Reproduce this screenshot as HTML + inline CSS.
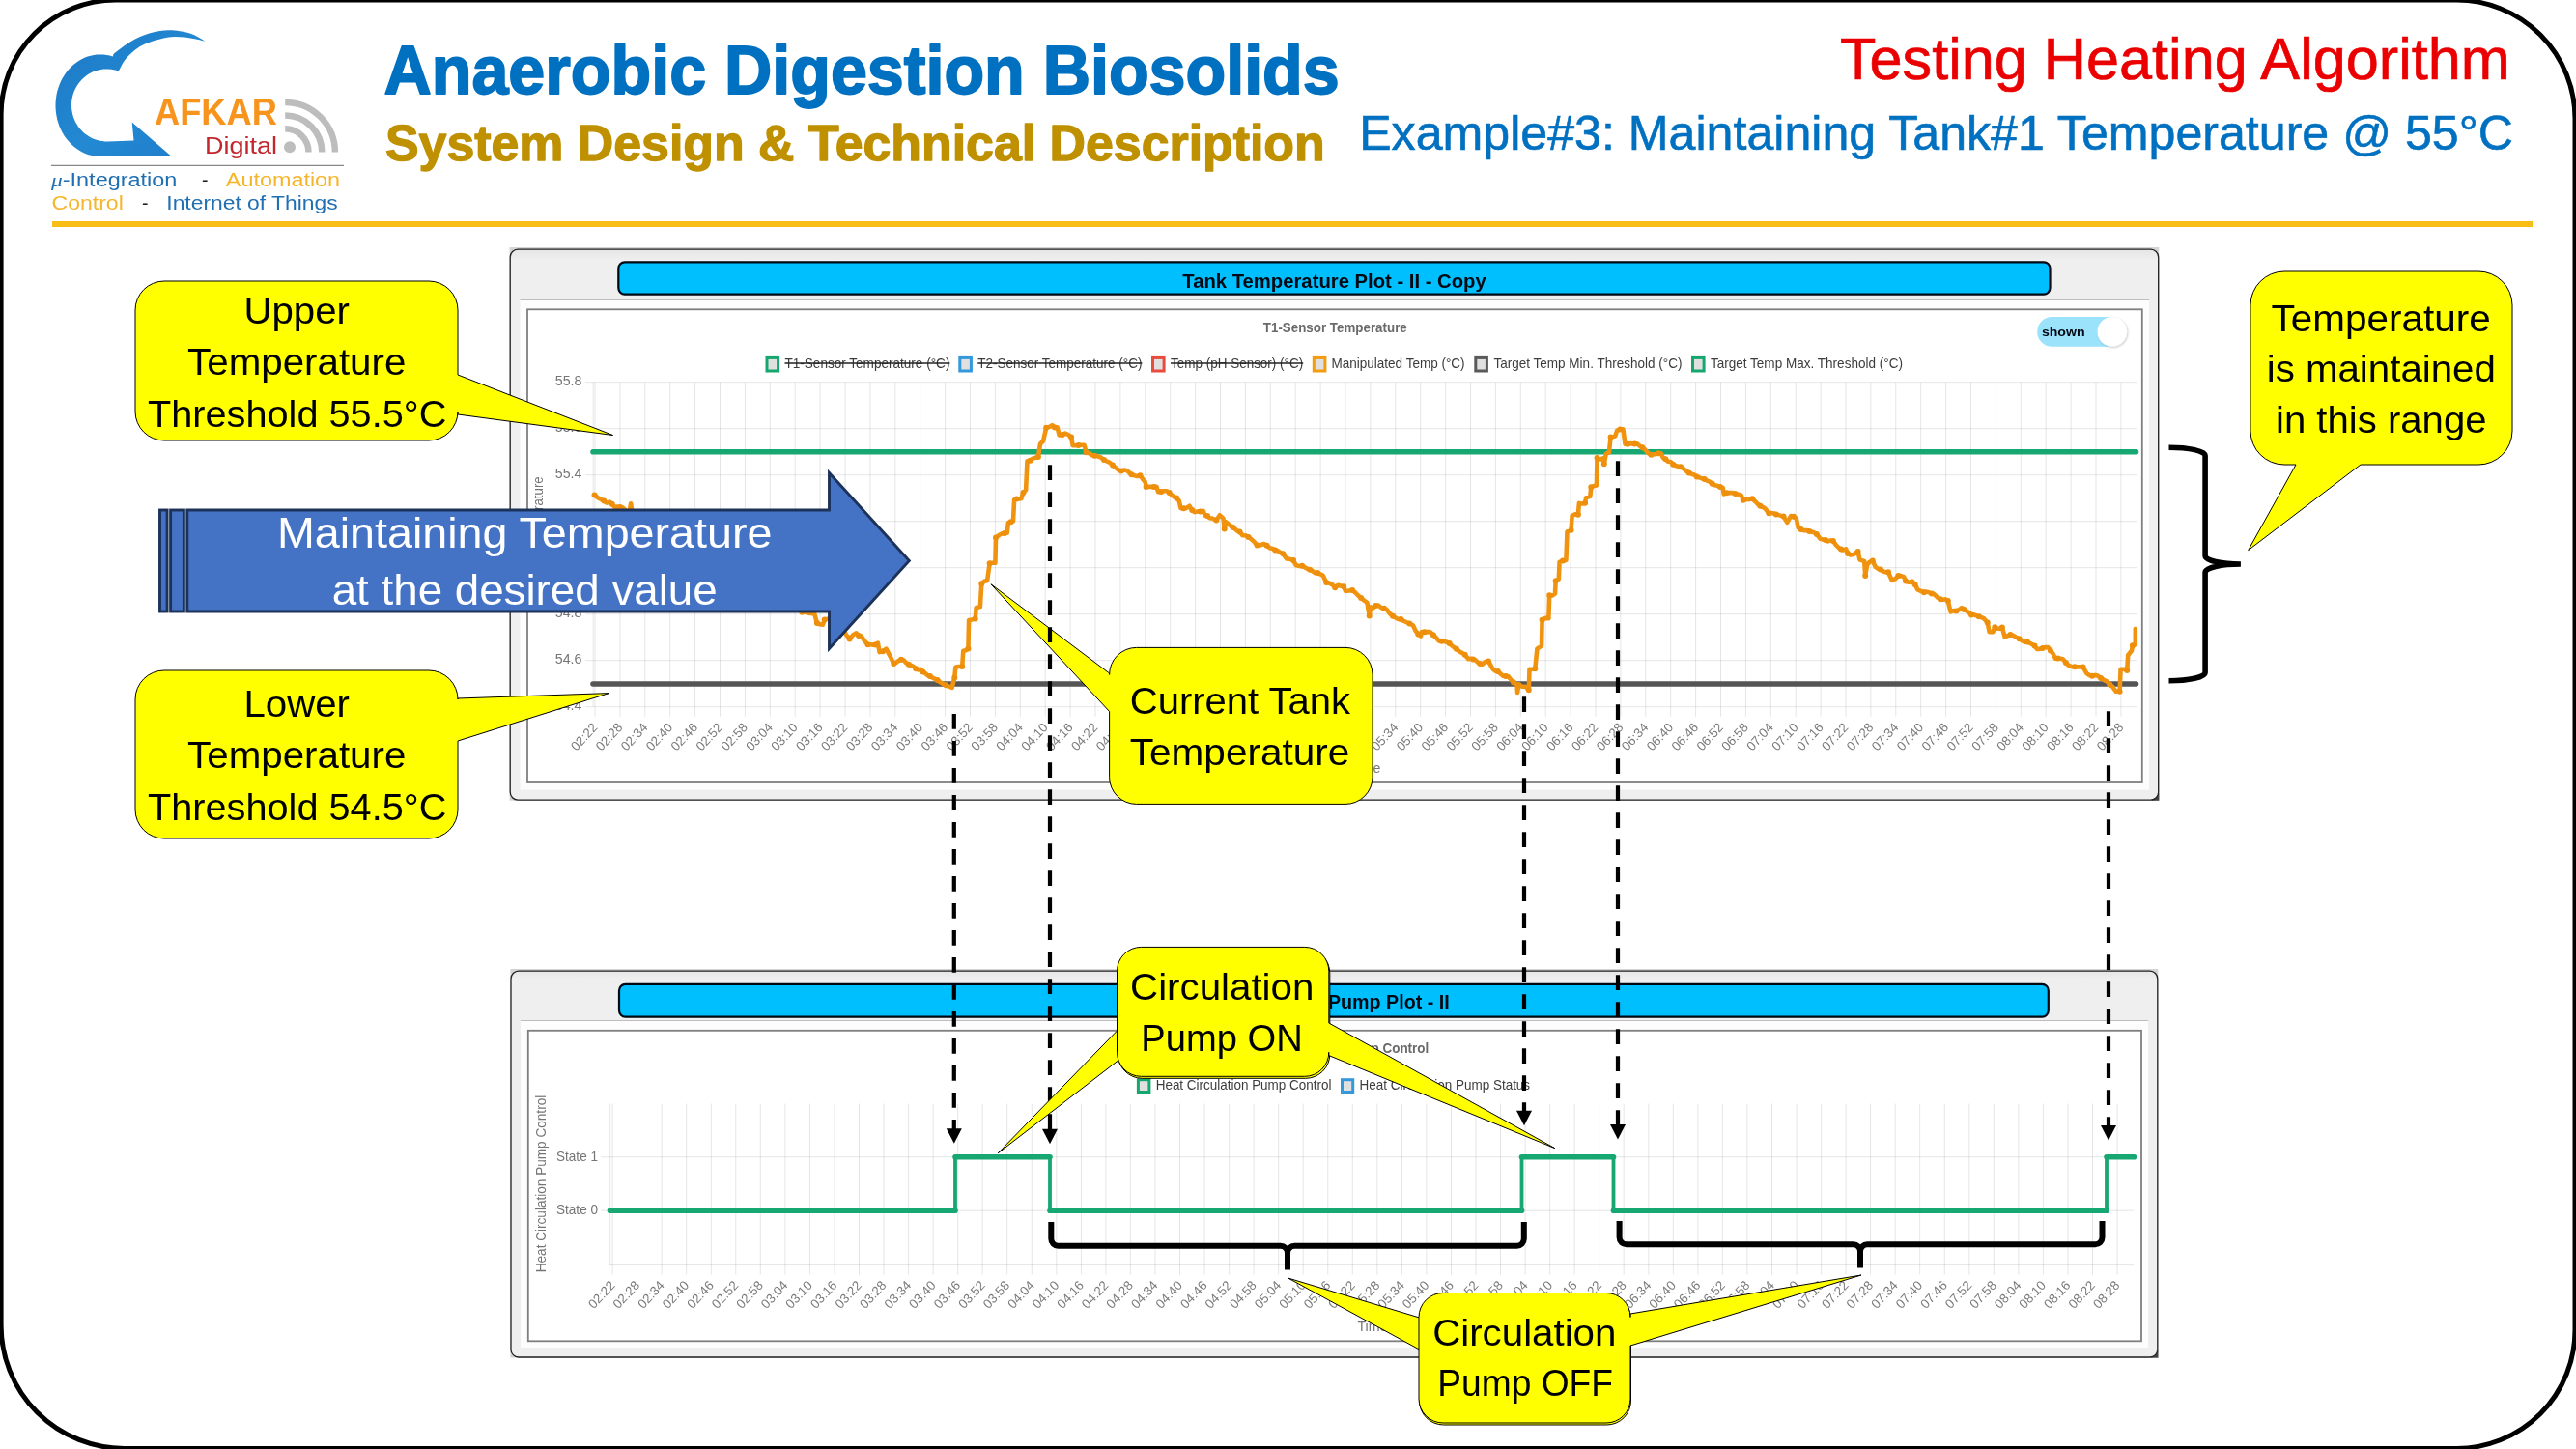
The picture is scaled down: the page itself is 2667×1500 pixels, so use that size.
<!DOCTYPE html>
<html><head><meta charset="utf-8"><title>Testing Heating Algorithm</title>
<style>
html,body{margin:0;padding:0;background:#fff;}
body{width:2667px;height:1500px;overflow:hidden;font-family:"Liberation Sans",sans-serif;}
svg{display:block;position:absolute;left:0;top:0;}
svg text{font-family:"Liberation Sans",sans-serif;white-space:pre;}
</style></head><body>
<svg width="2667" height="1500" viewBox="0 0 2667 1500">
<defs>
<linearGradient id="lg" x1="0" y1="0" x2="1" y2="1"><stop offset="0" stop-color="#1c78c6"/><stop offset="0.55" stop-color="#2389d2"/><stop offset="1" stop-color="#1f7ccb"/></linearGradient>
<linearGradient id="pg" x1="0" y1="0" x2="0" y2="1"><stop offset="0" stop-color="#e6e6e6"/><stop offset="0.02" stop-color="#efefef"/><stop offset="1" stop-color="#efefef"/></linearGradient>
<filter id="ks" x="-30%" y="-30%" width="160%" height="160%"><feGaussianBlur in="SourceAlpha" stdDeviation="1.2"/><feOffset dx="0.5" dy="1" result="o"/><feComponentTransfer><feFuncA type="linear" slope="0.22"/></feComponentTransfer><feMerge><feMergeNode/><feMergeNode in="SourceGraphic"/></feMerge></filter>
</defs>
<rect x="0" y="0" width="2667" height="1500" fill="#fff"/>
<g opacity="0.999">

<path d="M119.6,0.1 L2543.5,0.1 A122.5,122.5 0 0 1 2666.0,122.6 L2666.0,1376.9 A122.5,122.5 0 0 1 2543.5,1499.4 L128.6,1499.4 A127.5,127.5 0 0 1 1.1,1371.9 L1.1,118.6 A118.5,118.5 0 0 1 119.6,0.1 Z" fill="#fff" stroke="#000" stroke-width="5"/>
<g id="logo">
<path d="M212.7,42.7 C210.6,41.5 204.4,37.4 200.0,35.7 C195.6,34.0 190.3,33.0 186.3,32.3 C182.3,31.6 179.4,31.4 176.0,31.3 C172.6,31.2 169.0,31.4 165.6,31.9 C162.2,32.4 158.8,33.2 155.3,34.2 C151.9,35.2 148.4,36.6 144.9,38.1 C141.4,39.6 138.0,41.4 134.6,43.5 C131.2,45.6 127.0,48.6 124.2,50.7 C121.4,52.8 118.6,55.0 117.5,55.9 L116.8,58.4 L113.6,57.5 L110.3,56.9 L107.0,56.5 L103.7,56.4 L100.4,56.6 L97.1,57.0 L93.9,57.7 L90.7,58.6 L87.5,59.8 L84.5,61.3 L81.5,63.0 L78.7,64.9 L76.0,67.1 L73.4,69.5 L71.0,72.0 L68.7,74.8 L66.7,77.7 L64.8,80.8 L63.1,84.1 L61.6,87.4 L60.4,90.9 L59.3,94.5 L58.5,98.1 L58.0,101.9 L57.6,105.6 L57.5,109.4 L57.6,113.1 L58.0,116.9 L58.6,120.6 L59.4,124.2 L60.5,127.8 L61.7,131.2 L63.2,134.6 L64.9,137.8 L66.8,140.9 L68.9,143.8 L71.2,146.6 L73.6,149.1 L76.2,151.5 L78.9,153.6 L81.8,155.6 L84.7,157.2 L87.8,158.7 L90.9,159.9 L94.1,160.8 L97.4,161.5 L100.7,161.9 L104.0,162.0 L177.7,162 L136.7,126.5 L138.5,145.4 L111.3,146.4 L108.7,146.4 L106.0,146.1 L103.4,145.7 L100.8,145.0 L98.2,144.2 L95.7,143.2 L93.3,142.0 L91.0,140.6 L88.8,139.1 L86.7,137.4 L84.8,135.5 L83.0,133.5 L81.3,131.4 L79.8,129.1 L78.4,126.8 L77.2,124.3 L76.2,121.8 L75.4,119.1 L74.8,116.5 L74.3,113.8 L74.1,111.0 L74.0,108.3 L74.1,105.6 L74.5,102.8 L75.0,100.2 L75.7,97.5 L76.6,94.9 L77.7,92.4 L79.0,90.0 L80.4,87.7 L82.0,85.5 L83.7,83.4 L85.6,81.5 L87.6,79.7 L89.8,78.0 L92.0,76.6 L94.4,75.3 L96.8,74.1 L99.3,73.2 L101.9,72.5 L104.5,71.9 L107.2,71.6 L109.8,71.4 L112.5,71.5 L115.2,71.7 L117.8,72.2 L120.4,72.8 L122.9,73.6 C124.0,71.7 126.6,65.7 129.4,62.1 C132.2,58.5 136.4,54.6 139.8,51.8 C143.2,49.0 145.8,47.4 150.1,45.5 C154.4,43.6 160.4,41.6 165.6,40.4 C170.8,39.2 175.5,38.2 181.2,38.1 C186.9,38.0 194.8,39.1 200.0,39.9 C205.2,40.7 210.6,42.2 212.7,42.7 Z" fill="url(#lg)"/>
<text x="160.0" y="129.0" font-size="38" fill="#F7941E" font-weight="bold" text-anchor="start" textLength="127.0" lengthAdjust="spacingAndGlyphs" >AFKAR</text>
<text x="212.0" y="159.0" font-size="23" fill="#C1272D" font-weight="normal" text-anchor="start" textLength="75.0" lengthAdjust="spacingAndGlyphs" >Digital</text>
<path d="M295.2,133.29999999999998 A24.3,24.3 0 0 1 319.5,157.6" fill="none" stroke="#bdbdbd" stroke-width="6.5"/>
<path d="M295.2,119.5 A38.1,38.1 0 0 1 333.3,157.6" fill="none" stroke="#bdbdbd" stroke-width="6.5"/>
<path d="M295.2,105.89999999999999 A51.7,51.7 0 0 1 346.9,157.6" fill="none" stroke="#bdbdbd" stroke-width="6.5"/>
<circle cx="300" cy="152.2" r="6" fill="#bdbdbd"/>
<line x1="53" y1="171.4" x2="356" y2="171.4" stroke="#888" stroke-width="1.2"/>
<text x="53.0" y="193.0" font-size="19.5" fill="#1F6FB2" font-weight="normal" text-anchor="start" textLength="130.4" lengthAdjust="spacingAndGlyphs" ><tspan font-style="italic" font-family="Liberation Serif, serif">μ</tspan>-Integration</text>
<text x="209.0" y="193.0" font-size="19.5" fill="#222" font-weight="normal" text-anchor="start" >-</text>
<text x="233.8" y="193.0" font-size="19.5" fill="#F7B52C" font-weight="normal" text-anchor="start" textLength="118.3" lengthAdjust="spacingAndGlyphs" >Automation</text>
<text x="53.5" y="217.1" font-size="19.5" fill="#F7B52C" font-weight="normal" text-anchor="start" textLength="74.3" lengthAdjust="spacingAndGlyphs" >Control</text>
<text x="147.0" y="217.1" font-size="19.5" fill="#222" font-weight="normal" text-anchor="start" >-</text>
<text x="172.3" y="217.1" font-size="19.5" fill="#1F6FB2" font-weight="normal" text-anchor="start" textLength="177.3" lengthAdjust="spacingAndGlyphs" >Internet of Things</text>
</g>
<text x="397.5" y="97.2" font-size="70" fill="#0070C0" font-weight="bold" text-anchor="start" textLength="989.2" lengthAdjust="spacingAndGlyphs" stroke="#0070C0" stroke-width="1.8" stroke-linejoin="round">Anaerobic Digestion Biosolids</text>
<text x="399.0" y="165.8" font-size="52" fill="#BF9000" font-weight="bold" text-anchor="start" textLength="972.7" lengthAdjust="spacingAndGlyphs" stroke="#BF9000" stroke-width="1.3" stroke-linejoin="round">System Design &amp; Technical Description</text>
<text x="1905.0" y="82.3" font-size="61.5" fill="#EA0000" font-weight="normal" text-anchor="start" textLength="693.8" lengthAdjust="spacingAndGlyphs" stroke="#EA0000" stroke-width="0.7">Testing Heating Algorithm</text>
<text x="1407.2" y="155.0" font-size="49.7" fill="#0070C0" font-weight="normal" text-anchor="start" textLength="1194.8" lengthAdjust="spacingAndGlyphs" stroke="#0070C0" stroke-width="0.6">Example#3: Maintaining Tank#1 Temperature @ 55°C</text>
<rect x="54" y="229" width="2568" height="6" fill="#F8BE15"/>
<rect x="527.6" y="256.0" width="1707.6999999999998" height="572.7" fill="#d4d4d4"/>
<rect x="2227.7" y="821.1" width="7.7" height="7.7" fill="#444"/>
<rect x="528.2" y="258.2" width="1706.4999999999998" height="569.9000000000001" rx="8" ry="8" fill="url(#pg)" stroke="#222" stroke-width="1.3"/>
<rect x="538.5" y="311" width="1686.5" height="506.6" fill="#fdfdfd"/>
<line x1="538.5" y1="310.5" x2="2225" y2="310.5" stroke="#bdbdbd" stroke-width="1.2"/>
<rect x="640.3" y="271.3" width="1482.2" height="33.30000000000001" rx="6.5" ry="6.5" fill="#00BFFF" stroke="#000814" stroke-width="2.2"/>
<rect x="546" y="320.3" width="1671.8000000000002" height="489.7" fill="#fff" stroke="#7f7f7f" stroke-width="1.8"/>
<text x="1224.3" y="297.9" font-size="20" fill="#000a14" font-weight="bold" text-anchor="start" textLength="314.4" lengthAdjust="spacingAndGlyphs" >Tank Temperature Plot - II - Copy</text>
<line x1="616.0" y1="395.7" x2="616.0" y2="741.7" stroke="#000" stroke-opacity="0.10" stroke-width="1"/>
<line x1="641.9" y1="395.7" x2="641.9" y2="741.7" stroke="#000" stroke-opacity="0.10" stroke-width="1"/>
<line x1="667.8" y1="395.7" x2="667.8" y2="741.7" stroke="#000" stroke-opacity="0.10" stroke-width="1"/>
<line x1="693.7" y1="395.7" x2="693.7" y2="741.7" stroke="#000" stroke-opacity="0.10" stroke-width="1"/>
<line x1="719.6" y1="395.7" x2="719.6" y2="741.7" stroke="#000" stroke-opacity="0.10" stroke-width="1"/>
<line x1="745.5" y1="395.7" x2="745.5" y2="741.7" stroke="#000" stroke-opacity="0.10" stroke-width="1"/>
<line x1="771.4" y1="395.7" x2="771.4" y2="741.7" stroke="#000" stroke-opacity="0.10" stroke-width="1"/>
<line x1="797.3" y1="395.7" x2="797.3" y2="741.7" stroke="#000" stroke-opacity="0.10" stroke-width="1"/>
<line x1="823.2" y1="395.7" x2="823.2" y2="741.7" stroke="#000" stroke-opacity="0.10" stroke-width="1"/>
<line x1="849.1" y1="395.7" x2="849.1" y2="741.7" stroke="#000" stroke-opacity="0.10" stroke-width="1"/>
<line x1="875.0" y1="395.7" x2="875.0" y2="741.7" stroke="#000" stroke-opacity="0.10" stroke-width="1"/>
<line x1="900.9" y1="395.7" x2="900.9" y2="741.7" stroke="#000" stroke-opacity="0.10" stroke-width="1"/>
<line x1="926.8" y1="395.7" x2="926.8" y2="741.7" stroke="#000" stroke-opacity="0.10" stroke-width="1"/>
<line x1="952.7" y1="395.7" x2="952.7" y2="741.7" stroke="#000" stroke-opacity="0.10" stroke-width="1"/>
<line x1="978.6" y1="395.7" x2="978.6" y2="741.7" stroke="#000" stroke-opacity="0.10" stroke-width="1"/>
<line x1="1004.5" y1="395.7" x2="1004.5" y2="741.7" stroke="#000" stroke-opacity="0.10" stroke-width="1"/>
<line x1="1030.4" y1="395.7" x2="1030.4" y2="741.7" stroke="#000" stroke-opacity="0.10" stroke-width="1"/>
<line x1="1056.3" y1="395.7" x2="1056.3" y2="741.7" stroke="#000" stroke-opacity="0.10" stroke-width="1"/>
<line x1="1082.2" y1="395.7" x2="1082.2" y2="741.7" stroke="#000" stroke-opacity="0.10" stroke-width="1"/>
<line x1="1108.1" y1="395.7" x2="1108.1" y2="741.7" stroke="#000" stroke-opacity="0.10" stroke-width="1"/>
<line x1="1134.0" y1="395.7" x2="1134.0" y2="741.7" stroke="#000" stroke-opacity="0.10" stroke-width="1"/>
<line x1="1159.9" y1="395.7" x2="1159.9" y2="741.7" stroke="#000" stroke-opacity="0.10" stroke-width="1"/>
<line x1="1185.8" y1="395.7" x2="1185.8" y2="741.7" stroke="#000" stroke-opacity="0.10" stroke-width="1"/>
<line x1="1211.7" y1="395.7" x2="1211.7" y2="741.7" stroke="#000" stroke-opacity="0.10" stroke-width="1"/>
<line x1="1237.6" y1="395.7" x2="1237.6" y2="741.7" stroke="#000" stroke-opacity="0.10" stroke-width="1"/>
<line x1="1263.5" y1="395.7" x2="1263.5" y2="741.7" stroke="#000" stroke-opacity="0.10" stroke-width="1"/>
<line x1="1289.4" y1="395.7" x2="1289.4" y2="741.7" stroke="#000" stroke-opacity="0.10" stroke-width="1"/>
<line x1="1315.3" y1="395.7" x2="1315.3" y2="741.7" stroke="#000" stroke-opacity="0.10" stroke-width="1"/>
<line x1="1341.2" y1="395.7" x2="1341.2" y2="741.7" stroke="#000" stroke-opacity="0.10" stroke-width="1"/>
<line x1="1367.1" y1="395.7" x2="1367.1" y2="741.7" stroke="#000" stroke-opacity="0.10" stroke-width="1"/>
<line x1="1393.0" y1="395.7" x2="1393.0" y2="741.7" stroke="#000" stroke-opacity="0.10" stroke-width="1"/>
<line x1="1418.9" y1="395.7" x2="1418.9" y2="741.7" stroke="#000" stroke-opacity="0.10" stroke-width="1"/>
<line x1="1444.8" y1="395.7" x2="1444.8" y2="741.7" stroke="#000" stroke-opacity="0.10" stroke-width="1"/>
<line x1="1470.7" y1="395.7" x2="1470.7" y2="741.7" stroke="#000" stroke-opacity="0.10" stroke-width="1"/>
<line x1="1496.6" y1="395.7" x2="1496.6" y2="741.7" stroke="#000" stroke-opacity="0.10" stroke-width="1"/>
<line x1="1522.5" y1="395.7" x2="1522.5" y2="741.7" stroke="#000" stroke-opacity="0.10" stroke-width="1"/>
<line x1="1548.4" y1="395.7" x2="1548.4" y2="741.7" stroke="#000" stroke-opacity="0.10" stroke-width="1"/>
<line x1="1574.3" y1="395.7" x2="1574.3" y2="741.7" stroke="#000" stroke-opacity="0.10" stroke-width="1"/>
<line x1="1600.2" y1="395.7" x2="1600.2" y2="741.7" stroke="#000" stroke-opacity="0.10" stroke-width="1"/>
<line x1="1626.1" y1="395.7" x2="1626.1" y2="741.7" stroke="#000" stroke-opacity="0.10" stroke-width="1"/>
<line x1="1652.0" y1="395.7" x2="1652.0" y2="741.7" stroke="#000" stroke-opacity="0.10" stroke-width="1"/>
<line x1="1677.9" y1="395.7" x2="1677.9" y2="741.7" stroke="#000" stroke-opacity="0.10" stroke-width="1"/>
<line x1="1703.8" y1="395.7" x2="1703.8" y2="741.7" stroke="#000" stroke-opacity="0.10" stroke-width="1"/>
<line x1="1729.7" y1="395.7" x2="1729.7" y2="741.7" stroke="#000" stroke-opacity="0.10" stroke-width="1"/>
<line x1="1755.6" y1="395.7" x2="1755.6" y2="741.7" stroke="#000" stroke-opacity="0.10" stroke-width="1"/>
<line x1="1781.5" y1="395.7" x2="1781.5" y2="741.7" stroke="#000" stroke-opacity="0.10" stroke-width="1"/>
<line x1="1807.4" y1="395.7" x2="1807.4" y2="741.7" stroke="#000" stroke-opacity="0.10" stroke-width="1"/>
<line x1="1833.3" y1="395.7" x2="1833.3" y2="741.7" stroke="#000" stroke-opacity="0.10" stroke-width="1"/>
<line x1="1859.2" y1="395.7" x2="1859.2" y2="741.7" stroke="#000" stroke-opacity="0.10" stroke-width="1"/>
<line x1="1885.1" y1="395.7" x2="1885.1" y2="741.7" stroke="#000" stroke-opacity="0.10" stroke-width="1"/>
<line x1="1911.0" y1="395.7" x2="1911.0" y2="741.7" stroke="#000" stroke-opacity="0.10" stroke-width="1"/>
<line x1="1936.9" y1="395.7" x2="1936.9" y2="741.7" stroke="#000" stroke-opacity="0.10" stroke-width="1"/>
<line x1="1962.8" y1="395.7" x2="1962.8" y2="741.7" stroke="#000" stroke-opacity="0.10" stroke-width="1"/>
<line x1="1988.7" y1="395.7" x2="1988.7" y2="741.7" stroke="#000" stroke-opacity="0.10" stroke-width="1"/>
<line x1="2014.6" y1="395.7" x2="2014.6" y2="741.7" stroke="#000" stroke-opacity="0.10" stroke-width="1"/>
<line x1="2040.5" y1="395.7" x2="2040.5" y2="741.7" stroke="#000" stroke-opacity="0.10" stroke-width="1"/>
<line x1="2066.4" y1="395.7" x2="2066.4" y2="741.7" stroke="#000" stroke-opacity="0.10" stroke-width="1"/>
<line x1="2092.3" y1="395.7" x2="2092.3" y2="741.7" stroke="#000" stroke-opacity="0.10" stroke-width="1"/>
<line x1="2118.2" y1="395.7" x2="2118.2" y2="741.7" stroke="#000" stroke-opacity="0.10" stroke-width="1"/>
<line x1="2144.1" y1="395.7" x2="2144.1" y2="741.7" stroke="#000" stroke-opacity="0.10" stroke-width="1"/>
<line x1="2170.0" y1="395.7" x2="2170.0" y2="741.7" stroke="#000" stroke-opacity="0.10" stroke-width="1"/>
<line x1="2195.9" y1="395.7" x2="2195.9" y2="741.7" stroke="#000" stroke-opacity="0.10" stroke-width="1"/>
<line x1="614.2" y1="395.7" x2="614.2" y2="731.7" stroke="#000" stroke-opacity="0.10" stroke-width="1"/>
<line x1="606.0" y1="395.7" x2="2212.9" y2="395.7" stroke="#000" stroke-opacity="0.10" stroke-width="1"/>
<text x="602.4" y="398.9" font-size="14.2" fill="#757575" font-weight="normal" text-anchor="end" >55.8</text>
<line x1="606.0" y1="443.7" x2="2212.9" y2="443.7" stroke="#000" stroke-opacity="0.10" stroke-width="1"/>
<text x="602.4" y="446.9" font-size="14.2" fill="#757575" font-weight="normal" text-anchor="end" >55.6</text>
<line x1="606.0" y1="491.7" x2="2212.9" y2="491.7" stroke="#000" stroke-opacity="0.10" stroke-width="1"/>
<text x="602.4" y="494.9" font-size="14.2" fill="#757575" font-weight="normal" text-anchor="end" >55.4</text>
<line x1="606.0" y1="539.7" x2="2212.9" y2="539.7" stroke="#000" stroke-opacity="0.10" stroke-width="1"/>
<text x="602.4" y="542.9" font-size="14.2" fill="#757575" font-weight="normal" text-anchor="end" >55.2</text>
<line x1="606.0" y1="587.7" x2="2212.9" y2="587.7" stroke="#000" stroke-opacity="0.10" stroke-width="1"/>
<text x="602.4" y="590.9" font-size="14.2" fill="#757575" font-weight="normal" text-anchor="end" >55.0</text>
<line x1="606.0" y1="635.7" x2="2212.9" y2="635.7" stroke="#000" stroke-opacity="0.10" stroke-width="1"/>
<text x="602.4" y="638.9" font-size="14.2" fill="#757575" font-weight="normal" text-anchor="end" >54.8</text>
<line x1="606.0" y1="683.7" x2="2212.9" y2="683.7" stroke="#000" stroke-opacity="0.10" stroke-width="1"/>
<text x="602.4" y="686.9" font-size="14.2" fill="#757575" font-weight="normal" text-anchor="end" >54.6</text>
<line x1="606.0" y1="731.7" x2="2212.9" y2="731.7" stroke="#000" stroke-opacity="0.10" stroke-width="1"/>
<text x="602.4" y="734.9" font-size="14.2" fill="#757575" font-weight="normal" text-anchor="end" >54.4</text>
<text transform="translate(619.4,753.7) rotate(-47)" font-size="13.3" fill="#7a7a7a" text-anchor="end">02:22</text>
<text transform="translate(645.3,753.7) rotate(-47)" font-size="13.3" fill="#7a7a7a" text-anchor="end">02:28</text>
<text transform="translate(671.2,753.7) rotate(-47)" font-size="13.3" fill="#7a7a7a" text-anchor="end">02:34</text>
<text transform="translate(697.1,753.7) rotate(-47)" font-size="13.3" fill="#7a7a7a" text-anchor="end">02:40</text>
<text transform="translate(723.0,753.7) rotate(-47)" font-size="13.3" fill="#7a7a7a" text-anchor="end">02:46</text>
<text transform="translate(748.9,753.7) rotate(-47)" font-size="13.3" fill="#7a7a7a" text-anchor="end">02:52</text>
<text transform="translate(774.8,753.7) rotate(-47)" font-size="13.3" fill="#7a7a7a" text-anchor="end">02:58</text>
<text transform="translate(800.7,753.7) rotate(-47)" font-size="13.3" fill="#7a7a7a" text-anchor="end">03:04</text>
<text transform="translate(826.6,753.7) rotate(-47)" font-size="13.3" fill="#7a7a7a" text-anchor="end">03:10</text>
<text transform="translate(852.5,753.7) rotate(-47)" font-size="13.3" fill="#7a7a7a" text-anchor="end">03:16</text>
<text transform="translate(878.4,753.7) rotate(-47)" font-size="13.3" fill="#7a7a7a" text-anchor="end">03:22</text>
<text transform="translate(904.3,753.7) rotate(-47)" font-size="13.3" fill="#7a7a7a" text-anchor="end">03:28</text>
<text transform="translate(930.2,753.7) rotate(-47)" font-size="13.3" fill="#7a7a7a" text-anchor="end">03:34</text>
<text transform="translate(956.1,753.7) rotate(-47)" font-size="13.3" fill="#7a7a7a" text-anchor="end">03:40</text>
<text transform="translate(982.0,753.7) rotate(-47)" font-size="13.3" fill="#7a7a7a" text-anchor="end">03:46</text>
<text transform="translate(1007.9,753.7) rotate(-47)" font-size="13.3" fill="#7a7a7a" text-anchor="end">03:52</text>
<text transform="translate(1033.8,753.7) rotate(-47)" font-size="13.3" fill="#7a7a7a" text-anchor="end">03:58</text>
<text transform="translate(1059.7,753.7) rotate(-47)" font-size="13.3" fill="#7a7a7a" text-anchor="end">04:04</text>
<text transform="translate(1085.6,753.7) rotate(-47)" font-size="13.3" fill="#7a7a7a" text-anchor="end">04:10</text>
<text transform="translate(1111.5,753.7) rotate(-47)" font-size="13.3" fill="#7a7a7a" text-anchor="end">04:16</text>
<text transform="translate(1137.4,753.7) rotate(-47)" font-size="13.3" fill="#7a7a7a" text-anchor="end">04:22</text>
<text transform="translate(1163.3,753.7) rotate(-47)" font-size="13.3" fill="#7a7a7a" text-anchor="end">04:28</text>
<text transform="translate(1189.2,753.7) rotate(-47)" font-size="13.3" fill="#7a7a7a" text-anchor="end">04:34</text>
<text transform="translate(1215.1,753.7) rotate(-47)" font-size="13.3" fill="#7a7a7a" text-anchor="end">04:40</text>
<text transform="translate(1241.0,753.7) rotate(-47)" font-size="13.3" fill="#7a7a7a" text-anchor="end">04:46</text>
<text transform="translate(1266.9,753.7) rotate(-47)" font-size="13.3" fill="#7a7a7a" text-anchor="end">04:52</text>
<text transform="translate(1292.8,753.7) rotate(-47)" font-size="13.3" fill="#7a7a7a" text-anchor="end">04:58</text>
<text transform="translate(1318.7,753.7) rotate(-47)" font-size="13.3" fill="#7a7a7a" text-anchor="end">05:04</text>
<text transform="translate(1344.6,753.7) rotate(-47)" font-size="13.3" fill="#7a7a7a" text-anchor="end">05:10</text>
<text transform="translate(1370.5,753.7) rotate(-47)" font-size="13.3" fill="#7a7a7a" text-anchor="end">05:16</text>
<text transform="translate(1396.4,753.7) rotate(-47)" font-size="13.3" fill="#7a7a7a" text-anchor="end">05:22</text>
<text transform="translate(1422.3,753.7) rotate(-47)" font-size="13.3" fill="#7a7a7a" text-anchor="end">05:28</text>
<text transform="translate(1448.2,753.7) rotate(-47)" font-size="13.3" fill="#7a7a7a" text-anchor="end">05:34</text>
<text transform="translate(1474.1,753.7) rotate(-47)" font-size="13.3" fill="#7a7a7a" text-anchor="end">05:40</text>
<text transform="translate(1500.0,753.7) rotate(-47)" font-size="13.3" fill="#7a7a7a" text-anchor="end">05:46</text>
<text transform="translate(1525.9,753.7) rotate(-47)" font-size="13.3" fill="#7a7a7a" text-anchor="end">05:52</text>
<text transform="translate(1551.8,753.7) rotate(-47)" font-size="13.3" fill="#7a7a7a" text-anchor="end">05:58</text>
<text transform="translate(1577.7,753.7) rotate(-47)" font-size="13.3" fill="#7a7a7a" text-anchor="end">06:04</text>
<text transform="translate(1603.6,753.7) rotate(-47)" font-size="13.3" fill="#7a7a7a" text-anchor="end">06:10</text>
<text transform="translate(1629.5,753.7) rotate(-47)" font-size="13.3" fill="#7a7a7a" text-anchor="end">06:16</text>
<text transform="translate(1655.4,753.7) rotate(-47)" font-size="13.3" fill="#7a7a7a" text-anchor="end">06:22</text>
<text transform="translate(1681.3,753.7) rotate(-47)" font-size="13.3" fill="#7a7a7a" text-anchor="end">06:28</text>
<text transform="translate(1707.2,753.7) rotate(-47)" font-size="13.3" fill="#7a7a7a" text-anchor="end">06:34</text>
<text transform="translate(1733.1,753.7) rotate(-47)" font-size="13.3" fill="#7a7a7a" text-anchor="end">06:40</text>
<text transform="translate(1759.0,753.7) rotate(-47)" font-size="13.3" fill="#7a7a7a" text-anchor="end">06:46</text>
<text transform="translate(1784.9,753.7) rotate(-47)" font-size="13.3" fill="#7a7a7a" text-anchor="end">06:52</text>
<text transform="translate(1810.8,753.7) rotate(-47)" font-size="13.3" fill="#7a7a7a" text-anchor="end">06:58</text>
<text transform="translate(1836.7,753.7) rotate(-47)" font-size="13.3" fill="#7a7a7a" text-anchor="end">07:04</text>
<text transform="translate(1862.6,753.7) rotate(-47)" font-size="13.3" fill="#7a7a7a" text-anchor="end">07:10</text>
<text transform="translate(1888.5,753.7) rotate(-47)" font-size="13.3" fill="#7a7a7a" text-anchor="end">07:16</text>
<text transform="translate(1914.4,753.7) rotate(-47)" font-size="13.3" fill="#7a7a7a" text-anchor="end">07:22</text>
<text transform="translate(1940.3,753.7) rotate(-47)" font-size="13.3" fill="#7a7a7a" text-anchor="end">07:28</text>
<text transform="translate(1966.2,753.7) rotate(-47)" font-size="13.3" fill="#7a7a7a" text-anchor="end">07:34</text>
<text transform="translate(1992.1,753.7) rotate(-47)" font-size="13.3" fill="#7a7a7a" text-anchor="end">07:40</text>
<text transform="translate(2018.0,753.7) rotate(-47)" font-size="13.3" fill="#7a7a7a" text-anchor="end">07:46</text>
<text transform="translate(2043.9,753.7) rotate(-47)" font-size="13.3" fill="#7a7a7a" text-anchor="end">07:52</text>
<text transform="translate(2069.8,753.7) rotate(-47)" font-size="13.3" fill="#7a7a7a" text-anchor="end">07:58</text>
<text transform="translate(2095.7,753.7) rotate(-47)" font-size="13.3" fill="#7a7a7a" text-anchor="end">08:04</text>
<text transform="translate(2121.6,753.7) rotate(-47)" font-size="13.3" fill="#7a7a7a" text-anchor="end">08:10</text>
<text transform="translate(2147.5,753.7) rotate(-47)" font-size="13.3" fill="#7a7a7a" text-anchor="end">08:16</text>
<text transform="translate(2173.4,753.7) rotate(-47)" font-size="13.3" fill="#7a7a7a" text-anchor="end">08:22</text>
<text transform="translate(2199.3,753.7) rotate(-47)" font-size="13.3" fill="#7a7a7a" text-anchor="end">08:28</text>
<text x="1414.0" y="800.0" font-size="14.2" fill="#757575" font-weight="normal" text-anchor="middle" >Time</text>
<text transform="translate(562.2,563.3) rotate(-90)" font-size="14" fill="#757575" text-anchor="middle" textLength="140" lengthAdjust="spacingAndGlyphs">T1-Sensor Temperature</text>
<text x="1382.3" y="344.3" font-size="14.6" fill="#6a6a6a" font-weight="bold" text-anchor="middle" textLength="149.0" lengthAdjust="spacingAndGlyphs" >T1-Sensor Temperature</text>
<rect x="794.0" y="370.4" width="11.6" height="13.6" fill="#e0e0e0" stroke="#16A76F" stroke-width="3"/>
<text x="812.5" y="381.1" font-size="14.2" fill="#3c3c3c" font-weight="normal" text-anchor="start" textLength="170.9" lengthAdjust="spacingAndGlyphs" >T1-Sensor Temperature (°C)</text>
<line x1="812.5" y1="376" x2="983.4" y2="376" stroke="#222" stroke-width="1.6"/>
<rect x="993.8" y="370.4" width="11.6" height="13.6" fill="#e0e0e0" stroke="#3498DB" stroke-width="3"/>
<text x="1012.3" y="381.1" font-size="14.2" fill="#3c3c3c" font-weight="normal" text-anchor="start" textLength="170.1" lengthAdjust="spacingAndGlyphs" >T2-Sensor Temperature (°C)</text>
<line x1="1012.3" y1="376" x2="1182.4" y2="376" stroke="#222" stroke-width="1.6"/>
<rect x="1193.5" y="370.4" width="11.6" height="13.6" fill="#e0e0e0" stroke="#E74C3C" stroke-width="3"/>
<text x="1212.0" y="381.1" font-size="14.2" fill="#3c3c3c" font-weight="normal" text-anchor="start" textLength="137.2" lengthAdjust="spacingAndGlyphs" >Temp (pH Sensor) (°C)</text>
<line x1="1212" y1="376" x2="1349.2" y2="376" stroke="#222" stroke-width="1.6"/>
<rect x="1360.3" y="370.4" width="11.6" height="13.6" fill="#e0e0e0" stroke="#F39C12" stroke-width="3"/>
<text x="1378.5" y="381.1" font-size="14.2" fill="#3c3c3c" font-weight="normal" text-anchor="start" textLength="138.1" lengthAdjust="spacingAndGlyphs" >Manipulated Temp (°C)</text>
<rect x="1527.8" y="370.4" width="11.6" height="13.6" fill="#e0e0e0" stroke="#5a5a5a" stroke-width="3"/>
<text x="1546.5" y="381.1" font-size="14.2" fill="#3c3c3c" font-weight="normal" text-anchor="start" textLength="194.9" lengthAdjust="spacingAndGlyphs" >Target Temp Min. Threshold (°C)</text>
<rect x="1752.5" y="370.4" width="11.6" height="13.6" fill="#e0e0e0" stroke="#16A76F" stroke-width="3"/>
<text x="1770.9" y="381.1" font-size="14.2" fill="#3c3c3c" font-weight="normal" text-anchor="start" textLength="199.1" lengthAdjust="spacingAndGlyphs" >Target Temp Max. Threshold (°C)</text>
<rect x="2109.2" y="328" width="92.5" height="30.8" rx="15.4" ry="15.4" fill="#9BE2FB"/>
<circle cx="2186.8" cy="343.4" r="15.3" fill="#fff" filter="url(#ks)"/>
<text x="2113.9" y="347.6" font-size="13.3" fill="#000814" font-weight="bold" text-anchor="start" textLength="44.7" lengthAdjust="spacingAndGlyphs" >shown</text>
<line x1="614" y1="467.7" x2="2211.5" y2="467.7" stroke="#16A772" stroke-width="5.6" stroke-linecap="round"/>
<line x1="614" y1="708" x2="2211.5" y2="708" stroke="#555" stroke-width="5.6" stroke-linecap="round"/>
<path d="M615.5,512.4 L619.0,515.2 L622.4,517.1 L625.3,518.6 L628.2,520.6 L631.1,519.6 L633.7,521.7 L636.2,524.7 L639.1,524.6 L642.0,525.1 L644.9,525.6 L648.3,528.9 L651.8,529.4 L653.1,521.2 L654.3,529.0 L656.9,530.0 L659.5,531.5 L662.1,533.1 L664.8,534.1 L667.4,535.1 L670.0,535.1 L672.5,536.7 L675.0,538.1 L677.5,539.0 L680.0,540.0 L682.5,541.6 L685.0,542.6 L687.5,543.2 L690.0,544.2 L692.5,544.7 L695.0,546.6 L697.5,546.1 L700.0,547.1 L702.5,549.6 L705.0,551.1 L707.5,553.0 L710.0,554.5 L712.5,555.7 L715.0,556.2 L717.5,557.7 L720.0,559.3 L722.5,560.8 L725.0,562.2 L727.5,563.7 L730.0,565.8 L732.5,568.1 L735.0,569.6 L737.5,570.1 L740.0,571.6 L742.5,574.0 L745.0,575.7 L747.5,576.3 L750.0,580.0 L752.5,581.7 L755.0,582.9 L757.5,583.3 L760.0,585.0 L762.5,588.1 L765.0,589.8 L767.5,590.8 L770.0,592.5 L772.5,595.6 L775.0,597.4 L777.5,597.2 L780.0,598.9 L782.5,601.3 L785.0,603.3 L787.5,605.6 L790.0,607.2 L792.5,608.9 L795.0,609.8 L797.5,611.4 L800.0,612.4 L802.5,614.1 L805.0,616.5 L807.5,618.1 L810.0,620.8 L812.6,622.4 L815.1,624.0 L817.7,625.6 L820.2,626.9 L822.8,628.5 L825.3,630.0 L827.9,631.6 L830.4,633.8 L833.0,633.5 L835.6,634.3 L838.1,634.2 L840.7,635.2 L843.3,635.4 L845.9,644.9 L848.9,646.3 L851.9,646.7 L853.7,641.5 L858.0,640.4 L860.7,642.9 L863.3,645.3 L866.0,647.8 L868.5,649.1 L871.0,651.1 L873.6,653.0 L876.1,657.1 L879.6,661.4 L883.0,657.4 L886.5,655.3 L889.0,658.0 L891.6,658.4 L895.0,663.4 L898.5,667.3 L901.1,667.3 L903.7,667.6 L906.3,667.4 L908.9,665.6 L910.6,675.1 L914.0,674.3 L917.5,671.7 L921.0,678.3 L925.3,687.0 L927.9,685.8 L930.4,683.9 L933.0,682.8 L935.6,683.4 L938.2,686.3 L940.8,687.8 L943.4,688.8 L945.8,690.0 L948.2,692.2 L950.7,693.4 L953.1,692.8 L955.5,695.4 L957.9,696.9 L960.3,699.0 L962.8,699.9 L965.2,701.5 L967.6,702.6 L970.5,704.0 L973.3,706.1 L976.2,707.9 L979.4,709.2 L982.5,710.7 L985.7,711.9 L988.3,701.4 L989.4,690.5 L992.8,690.0 L996.2,689.9 L997.3,673.7 L999.8,673.2 L1002.4,671.5 L1003.1,641.9 L1006.4,641.4 L1009.7,640.4 L1010.7,629.0 L1014.9,628.0 L1016.3,604.2 L1019.2,601.6 L1022.1,601.2 L1024.6,583.2 L1027.5,582.7 L1030.4,582.8 L1031.0,556.6 L1034.3,554.0 L1037.6,552.2 L1040.2,551.9 L1042.8,551.7 L1043.9,541.1 L1046.5,540.3 L1049.0,539.6 L1050.1,517.4 L1052.5,516.5 L1054.9,516.5 L1057.3,516.2 L1059.4,510.1 L1062.1,507.2 L1063.5,477.2 L1066.6,476.8 L1069.7,474.4 L1072.3,473.7 L1074.9,473.1 L1077.0,459.6 L1080.1,456.5 L1083.2,442.7 L1086.3,442.1 L1089.4,440.2 L1092.0,442.5 L1094.6,442.2 L1096.6,450.5 L1099.8,450.1 L1102.9,448.6 L1106.0,450.0 L1109.1,452.6 L1110.7,461.1 L1113.7,461.2 L1116.6,461.0 L1119.5,460.8 L1122.5,460.7 L1124.6,468.3 L1127.4,469.0 L1130.3,471.0 L1133.2,471.7 L1136.0,472.1 L1140.0,473.7 L1143.0,476.1 L1146.0,477.5 L1149.0,478.9 L1152.0,481.6 L1154.9,484.0 L1157.9,486.6 L1160.9,487.4 L1163.9,486.6 L1166.9,487.2 L1171.4,491.3 L1174.4,492.3 L1177.4,492.9 L1180.4,492.2 L1183.1,495.9 L1185.7,499.0 L1186.6,504.0 L1189.3,503.9 L1192.0,503.7 L1194.7,504.0 L1197.4,503.8 L1199.2,509.3 L1202.2,509.1 L1205.2,508.2 L1208.2,508.2 L1210.6,510.1 L1213.0,512.4 L1215.4,514.2 L1218.1,515.6 L1220.7,518.3 L1222.5,526.1 L1225.5,526.2 L1228.5,525.9 L1231.5,523.8 L1234.2,528.1 L1236.9,530.1 L1239.9,529.4 L1242.8,529.4 L1245.8,528.9 L1247.6,533.8 L1250.0,534.1 L1252.4,536.2 L1254.8,536.5 L1259.3,538.5 L1262.9,533.3 L1266.5,536.7 L1267.7,547.5 L1269.2,540.3 L1272.8,543.3 L1276.3,545.8 L1278.7,547.6 L1281.1,549.7 L1283.5,550.6 L1286.5,554.3 L1289.5,554.2 L1292.5,556.0 L1295.5,558.2 L1298.5,560.9 L1301.5,564.4 L1305.0,564.2 L1308.6,563.0 L1311.6,564.8 L1314.6,567.2 L1317.6,568.0 L1320.3,569.5 L1323.0,570.2 L1325.7,572.2 L1328.4,573.3 L1332.0,578.4 L1335.5,578.8 L1339.1,580.1 L1341.8,585.1 L1344.9,586.0 L1348.1,585.8 L1350.8,587.2 L1353.5,588.8 L1356.2,589.7 L1358.9,591.1 L1361.6,593.3 L1364.2,593.1 L1366.9,594.3 L1369.6,595.6 L1373.2,602.9 L1376.2,603.6 L1379.2,605.1 L1382.2,608.2 L1385.2,605.7 L1388.2,606.5 L1391.2,607.2 L1393.0,611.9 L1396.5,611.5 L1400.1,611.0 L1403.1,613.4 L1406.1,616.5 L1409.1,618.9 L1412.2,621.5 L1415.4,623.9 L1417.7,637.4 L1419.0,628.4 L1421.7,629.4 L1424.3,626.9 L1427.0,626.6 L1430.0,629.0 L1433.0,629.8 L1436.0,631.3 L1439.0,635.4 L1442.0,637.8 L1445.0,639.6 L1447.7,641.0 L1450.4,641.1 L1453.1,642.7 L1455.8,644.0 L1459.3,645.5 L1462.9,647.3 L1465.6,653.0 L1468.3,656.5 L1471.0,658.5 L1471.9,654.0 L1474.9,654.3 L1477.9,654.1 L1480.9,654.4 L1483.9,657.3 L1486.8,660.0 L1489.8,663.6 L1492.5,663.7 L1495.2,664.0 L1497.9,664.8 L1500.6,666.1 L1503.0,668.2 L1505.4,670.1 L1507.8,671.7 L1510.8,674.4 L1513.7,675.9 L1516.7,677.7 L1520.3,682.2 L1522.7,681.7 L1525.1,682.4 L1527.5,683.2 L1529.9,685.6 L1532.3,686.9 L1534.7,687.6 L1537.8,685.1 L1541.0,684.4 L1545.5,692.4 L1548.2,694.7 L1550.8,695.1 L1553.5,697.5 L1556.2,699.8 L1558.9,699.9 L1561.6,700.3 L1564.3,703.6 L1567.0,706.2 L1570.6,709.0 L1571.1,717.0 L1572.4,708.9 L1576.0,710.6 L1579.5,710.8 L1582.8,714.2 L1583.5,692.7 L1586.4,692.8 L1589.3,692.3 L1591.4,671.7 L1596.0,668.6 L1596.6,641.7 L1600.0,639.9 L1603.4,640.1 L1604.2,616.3 L1607.1,616.5 L1610.0,614.6 L1610.7,601.2 L1613.8,599.5 L1614.6,581.9 L1618.0,580.5 L1621.4,580.0 L1622.5,550.3 L1626.6,548.7 L1627.6,534.1 L1630.8,532.2 L1633.9,532.8 L1634.9,520.9 L1638.0,521.4 L1641.1,520.7 L1642.1,515.3 L1646.3,513.9 L1647.3,504.3 L1650.1,503.1 L1652.9,502.4 L1653.5,474.1 L1656.6,475.5 L1659.7,474.4 L1660.8,480.2 L1662.8,469.6 L1665.9,468.5 L1667.6,452.5 L1672.2,451.5 L1674.2,445.7 L1677.3,444.5 L1680.4,444.2 L1682.5,459.7 L1685.0,459.8 L1687.5,459.1 L1689.9,459.4 L1692.4,459.5 L1694.9,459.4 L1697.7,461.7 L1700.4,463.2 L1703.2,465.5 L1706.3,468.9 L1709.4,470.7 L1712.0,470.2 L1714.6,470.2 L1717.2,469.2 L1719.8,469.5 L1721.8,473.9 L1724.4,475.3 L1727.0,477.7 L1729.6,478.1 L1732.2,480.7 L1734.8,482.0 L1737.4,482.8 L1740.0,483.2 L1742.8,485.1 L1745.7,487.5 L1748.6,489.4 L1751.4,490.7 L1754.1,491.5 L1756.7,493.5 L1759.4,494.3 L1762.0,495.3 L1764.7,496.0 L1767.4,497.6 L1770.0,498.7 L1772.7,500.7 L1775.3,502.2 L1778.0,502.7 L1780.9,504.1 L1783.8,505.0 L1784.7,511.4 L1787.6,510.3 L1790.4,510.0 L1793.3,510.1 L1796.5,511.0 L1799.6,511.8 L1802.8,512.8 L1804.7,517.8 L1807.9,517.3 L1811.0,517.0 L1814.2,516.3 L1817.1,519.0 L1819.9,521.9 L1822.4,523.8 L1825.0,524.8 L1827.5,526.5 L1831.3,531.3 L1833.8,531.0 L1836.4,531.4 L1838.9,532.4 L1841.4,533.1 L1844.0,533.9 L1846.5,534.6 L1850.3,540.8 L1854.1,534.1 L1856.9,534.8 L1859.8,536.7 L1861.7,546.3 L1864.6,548.1 L1867.5,549.1 L1870.3,549.0 L1873.2,549.9 L1875.7,550.5 L1878.3,551.4 L1880.8,552.9 L1884.6,557.7 L1887.3,558.4 L1889.9,559.0 L1892.6,560.4 L1895.2,559.4 L1897.9,560.0 L1900.8,564.1 L1903.6,567.0 L1906.1,568.5 L1908.7,569.5 L1911.2,568.3 L1913.1,573.0 L1915.9,574.6 L1918.8,574.1 L1923.6,571.0 L1925.5,579.5 L1930.2,580.9 L1931.2,596.1 L1933.1,584.6 L1935.9,581.7 L1938.8,580.6 L1941.6,586.8 L1944.3,588.7 L1947.0,589.6 L1949.6,591.3 L1952.3,592.3 L1955.0,592.3 L1958.8,600.9 L1962.1,599.3 L1965.4,596.1 L1968.2,596.1 L1971.1,597.1 L1973.0,601.5 L1976.3,602.8 L1979.7,601.6 L1982.6,604.9 L1985.4,610.4 L1988.7,611.8 L1992.0,613.2 L1994.6,612.6 L1997.2,613.3 L1999.9,614.6 L2002.5,615.1 L2006.3,618.8 L2008.9,620.3 L2011.5,620.7 L2014.2,620.3 L2016.8,622.1 L2019.6,633.5 L2022.4,632.0 L2025.3,632.6 L2028.2,631.2 L2031.0,629.0 L2033.5,630.9 L2036.1,632.4 L2038.6,634.3 L2041.1,636.5 L2043.7,636.3 L2046.2,637.4 L2048.8,638.2 L2051.3,639.2 L2053.9,640.2 L2057.7,644.6 L2059.6,654.1 L2063.4,654.2 L2065.3,649.3 L2067.8,650.6 L2070.4,650.8 L2072.9,649.6 L2075.7,659.5 L2078.6,658.1 L2081.4,657.1 L2084.3,657.8 L2087.5,659.7 L2090.6,661.2 L2093.8,663.5 L2096.3,664.8 L2098.9,664.5 L2101.4,665.7 L2103.9,667.0 L2106.5,668.6 L2109.0,671.9 L2111.8,671.9 L2114.7,671.1 L2117.6,670.1 L2120.4,670.1 L2122.9,673.4 L2125.5,676.6 L2128.0,681.7 L2130.6,681.5 L2133.1,681.7 L2135.7,682.3 L2138.9,686.1 L2142.0,689.0 L2145.2,690.2 L2148.0,690.2 L2150.9,690.4 L2153.8,690.4 L2156.6,690.4 L2160.4,697.1 L2163.2,699.0 L2166.1,699.7 L2169.0,698.9 L2171.8,699.6 L2175.0,701.9 L2178.1,703.8 L2181.3,705.3 L2184.2,708.6 L2187.0,710.6 L2190.8,715.8 L2194.6,715.8 L2195.6,692.7 L2198.9,692.7 L2202.2,694.0 L2203.2,678.3 L2207.0,673.5 L2207.9,668.2 L2210.8,667.3 L2210.8,651.0" fill="none" stroke="#F0930F" stroke-width="4.6" stroke-linejoin="round" stroke-linecap="round"/>
<path d="M615.5,512.4h0.01M625.3,518.6h0.01M633.7,521.7h0.01M642.0,525.1h0.01M651.8,529.4h0.01M656.9,530.0h0.01M664.8,534.1h0.01M672.5,536.7h0.01M680.0,540.0h0.01M687.5,543.2h0.01M695.0,546.6h0.01M702.5,549.6h0.01M710.0,554.5h0.01M717.5,557.7h0.01M725.0,562.2h0.01M732.5,568.1h0.01M740.0,571.6h0.01M747.5,576.3h0.01M755.0,582.9h0.01M762.5,588.1h0.01M770.0,592.5h0.01M777.5,597.2h0.01M785.0,603.3h0.01M792.5,608.9h0.01M800.0,612.4h0.01M807.5,618.1h0.01M815.1,624.0h0.01M822.8,628.5h0.01M830.4,633.8h0.01M838.1,634.2h0.01M845.9,644.9h0.01M853.7,641.5h0.01M863.3,645.3h0.01M871.0,651.1h0.01M879.6,661.4h0.01M889.0,658.0h0.01M898.5,667.3h0.01M906.3,667.4h0.01M914.0,674.3h0.01M925.3,687.0h0.01M933.0,682.8h0.01M940.8,687.8h0.01M948.2,692.2h0.01M955.5,695.4h0.01M962.8,699.9h0.01M970.5,704.0h0.01M979.4,709.2h0.01M988.3,701.4h0.01M996.2,689.9h0.01M1002.4,671.5h0.01M1009.7,640.4h0.01M1016.3,604.2h0.01M1024.6,583.2h0.01M1031.0,556.6h0.01M1040.2,551.9h0.01M1046.5,540.3h0.01M1052.5,516.5h0.01M1059.4,510.1h0.01M1066.6,476.8h0.01M1074.9,473.1h0.01M1083.2,442.7h0.01M1092.0,442.5h0.01M1099.8,450.1h0.01M1109.1,452.6h0.01M1116.6,461.0h0.01M1124.6,468.3h0.01M1133.2,471.7h0.01M1143.0,476.1h0.01M1152.0,481.6h0.01M1160.9,487.4h0.01M1171.4,491.3h0.01M1180.4,492.2h0.01M1186.6,504.0h0.01M1194.7,504.0h0.01M1202.2,509.1h0.01M1210.6,510.1h0.01M1218.1,515.6h0.01M1225.5,526.2h0.01M1234.2,528.1h0.01M1242.8,529.4h0.01M1250.0,534.1h0.01M1259.3,538.5h0.01M1267.7,547.5h0.01M1276.3,545.8h0.01M1283.5,550.6h0.01M1292.5,556.0h0.01M1301.5,564.4h0.01M1311.6,564.8h0.01M1320.3,569.5h0.01M1328.4,573.3h0.01M1339.1,580.1h0.01M1348.1,585.8h0.01M1356.2,589.7h0.01M1364.2,593.1h0.01M1373.2,602.9h0.01M1382.2,608.2h0.01M1391.2,607.2h0.01M1400.1,611.0h0.01M1409.1,618.9h0.01M1417.7,637.4h0.01M1424.3,626.9h0.01M1433.0,629.8h0.01M1442.0,637.8h0.01M1450.4,641.1h0.01M1459.3,645.5h0.01M1468.3,656.5h0.01M1474.9,654.3h0.01M1483.9,657.3h0.01M1492.5,663.7h0.01M1500.6,666.1h0.01M1507.8,671.7h0.01M1516.7,677.7h0.01M1525.1,682.4h0.01M1532.3,686.9h0.01M1541.0,684.4h0.01M1550.8,695.1h0.01M1558.9,699.9h0.01M1567.0,706.2h0.01M1572.4,708.9h0.01M1582.8,714.2h0.01M1589.3,692.3h0.01M1596.6,641.7h0.01M1604.2,616.3h0.01M1610.7,601.2h0.01M1618.0,580.5h0.01M1626.6,548.7h0.01M1633.9,532.8h0.01M1641.1,520.7h0.01M1647.3,504.3h0.01M1653.5,474.1h0.01M1660.8,480.2h0.01M1667.6,452.5h0.01M1677.3,444.5h0.01M1685.0,459.8h0.01M1692.4,459.5h0.01M1700.4,463.2h0.01M1709.4,470.7h0.01M1717.2,469.2h0.01M1724.4,475.3h0.01M1732.2,480.7h0.01M1740.0,483.2h0.01M1748.6,489.4h0.01M1756.7,493.5h0.01M1764.7,496.0h0.01M1772.7,500.7h0.01M1780.9,504.1h0.01M1787.6,510.3h0.01M1796.5,511.0h0.01M1804.7,517.8h0.01M1814.2,516.3h0.01M1822.4,523.8h0.01M1831.3,531.3h0.01M1838.9,532.4h0.01M1846.5,534.6h0.01M1856.9,534.8h0.01M1864.6,548.1h0.01M1873.2,549.9h0.01M1880.8,552.9h0.01M1889.9,559.0h0.01M1897.9,560.0h0.01M1906.1,568.5h0.01M1913.1,573.0h0.01M1923.6,571.0h0.01M1931.2,596.1h0.01M1938.8,580.6h0.01M1947.0,589.6h0.01M1955.0,592.3h0.01M1965.4,596.1h0.01M1973.0,601.5h0.01M1982.6,604.9h0.01M1992.0,613.2h0.01M1999.9,614.6h0.01M2008.9,620.3h0.01M2016.8,622.1h0.01M2025.3,632.6h0.01M2033.5,630.9h0.01M2041.1,636.5h0.01M2048.8,638.2h0.01M2057.7,644.6h0.01M2065.3,649.3h0.01M2072.9,649.6h0.01M2081.4,657.1h0.01M2090.6,661.2h0.01M2098.9,664.5h0.01M2106.5,668.6h0.01M2114.7,671.1h0.01M2122.9,673.4h0.01M2130.6,681.5h0.01M2138.9,686.1h0.01M2148.0,690.2h0.01M2156.6,690.4h0.01M2166.1,699.7h0.01M2175.0,701.9h0.01M2184.2,708.6h0.01M2194.6,715.8h0.01M2202.2,694.0h0.01M2207.9,668.2h0.01" fill="none" stroke="#EE8F0C" stroke-width="6" stroke-linecap="round"/>
<rect x="528.4" y="1003.0" width="1706.0000000000002" height="402.59999999999997" fill="#d4d4d4"/>
<rect x="2226.8" y="1398" width="7.7" height="7.7" fill="#444"/>
<rect x="529" y="1005.2" width="1704.8000000000002" height="399.79999999999995" rx="8" ry="8" fill="url(#pg)" stroke="#222" stroke-width="1.3"/>
<rect x="539" y="1057" width="1685" height="338" fill="#fdfdfd"/>
<line x1="539" y1="1056.5" x2="2224" y2="1056.5" stroke="#bdbdbd" stroke-width="1.2"/>
<rect x="641" y="1018.9" width="1479.8000000000002" height="33.69999999999993" rx="6.5" ry="6.5" fill="#00BFFF" stroke="#000814" stroke-width="2.2"/>
<rect x="546.8" y="1066.8" width="1670.2" height="321.5" fill="#fff" stroke="#7f7f7f" stroke-width="1.8"/>
<text x="1375.0" y="1044.2" font-size="20" fill="#000a14" font-weight="bold" text-anchor="start" textLength="125.6" lengthAdjust="spacingAndGlyphs" >Pump Plot - II</text>
<text x="1365.0" y="1044.5" font-size="21" fill="#000a14" font-weight="bold" text-anchor="end" textLength="150.0" lengthAdjust="spacingAndGlyphs" >Heat Circulation</text>
<line x1="634.1" y1="1142.5" x2="634.1" y2="1319.6" stroke="#000" stroke-opacity="0.10" stroke-width="1"/>
<line x1="659.6" y1="1142.5" x2="659.6" y2="1319.6" stroke="#000" stroke-opacity="0.10" stroke-width="1"/>
<line x1="685.2" y1="1142.5" x2="685.2" y2="1319.6" stroke="#000" stroke-opacity="0.10" stroke-width="1"/>
<line x1="710.7" y1="1142.5" x2="710.7" y2="1319.6" stroke="#000" stroke-opacity="0.10" stroke-width="1"/>
<line x1="736.3" y1="1142.5" x2="736.3" y2="1319.6" stroke="#000" stroke-opacity="0.10" stroke-width="1"/>
<line x1="761.8" y1="1142.5" x2="761.8" y2="1319.6" stroke="#000" stroke-opacity="0.10" stroke-width="1"/>
<line x1="787.3" y1="1142.5" x2="787.3" y2="1319.6" stroke="#000" stroke-opacity="0.10" stroke-width="1"/>
<line x1="812.9" y1="1142.5" x2="812.9" y2="1319.6" stroke="#000" stroke-opacity="0.10" stroke-width="1"/>
<line x1="838.4" y1="1142.5" x2="838.4" y2="1319.6" stroke="#000" stroke-opacity="0.10" stroke-width="1"/>
<line x1="864.0" y1="1142.5" x2="864.0" y2="1319.6" stroke="#000" stroke-opacity="0.10" stroke-width="1"/>
<line x1="889.5" y1="1142.5" x2="889.5" y2="1319.6" stroke="#000" stroke-opacity="0.10" stroke-width="1"/>
<line x1="915.0" y1="1142.5" x2="915.0" y2="1319.6" stroke="#000" stroke-opacity="0.10" stroke-width="1"/>
<line x1="940.6" y1="1142.5" x2="940.6" y2="1319.6" stroke="#000" stroke-opacity="0.10" stroke-width="1"/>
<line x1="966.1" y1="1142.5" x2="966.1" y2="1319.6" stroke="#000" stroke-opacity="0.10" stroke-width="1"/>
<line x1="991.7" y1="1142.5" x2="991.7" y2="1319.6" stroke="#000" stroke-opacity="0.10" stroke-width="1"/>
<line x1="1017.2" y1="1142.5" x2="1017.2" y2="1319.6" stroke="#000" stroke-opacity="0.10" stroke-width="1"/>
<line x1="1042.7" y1="1142.5" x2="1042.7" y2="1319.6" stroke="#000" stroke-opacity="0.10" stroke-width="1"/>
<line x1="1068.3" y1="1142.5" x2="1068.3" y2="1319.6" stroke="#000" stroke-opacity="0.10" stroke-width="1"/>
<line x1="1093.8" y1="1142.5" x2="1093.8" y2="1319.6" stroke="#000" stroke-opacity="0.10" stroke-width="1"/>
<line x1="1119.4" y1="1142.5" x2="1119.4" y2="1319.6" stroke="#000" stroke-opacity="0.10" stroke-width="1"/>
<line x1="1144.9" y1="1142.5" x2="1144.9" y2="1319.6" stroke="#000" stroke-opacity="0.10" stroke-width="1"/>
<line x1="1170.4" y1="1142.5" x2="1170.4" y2="1319.6" stroke="#000" stroke-opacity="0.10" stroke-width="1"/>
<line x1="1196.0" y1="1142.5" x2="1196.0" y2="1319.6" stroke="#000" stroke-opacity="0.10" stroke-width="1"/>
<line x1="1221.5" y1="1142.5" x2="1221.5" y2="1319.6" stroke="#000" stroke-opacity="0.10" stroke-width="1"/>
<line x1="1247.1" y1="1142.5" x2="1247.1" y2="1319.6" stroke="#000" stroke-opacity="0.10" stroke-width="1"/>
<line x1="1272.6" y1="1142.5" x2="1272.6" y2="1319.6" stroke="#000" stroke-opacity="0.10" stroke-width="1"/>
<line x1="1298.1" y1="1142.5" x2="1298.1" y2="1319.6" stroke="#000" stroke-opacity="0.10" stroke-width="1"/>
<line x1="1323.7" y1="1142.5" x2="1323.7" y2="1319.6" stroke="#000" stroke-opacity="0.10" stroke-width="1"/>
<line x1="1349.2" y1="1142.5" x2="1349.2" y2="1319.6" stroke="#000" stroke-opacity="0.10" stroke-width="1"/>
<line x1="1374.8" y1="1142.5" x2="1374.8" y2="1319.6" stroke="#000" stroke-opacity="0.10" stroke-width="1"/>
<line x1="1400.3" y1="1142.5" x2="1400.3" y2="1319.6" stroke="#000" stroke-opacity="0.10" stroke-width="1"/>
<line x1="1425.8" y1="1142.5" x2="1425.8" y2="1319.6" stroke="#000" stroke-opacity="0.10" stroke-width="1"/>
<line x1="1451.4" y1="1142.5" x2="1451.4" y2="1319.6" stroke="#000" stroke-opacity="0.10" stroke-width="1"/>
<line x1="1476.9" y1="1142.5" x2="1476.9" y2="1319.6" stroke="#000" stroke-opacity="0.10" stroke-width="1"/>
<line x1="1502.5" y1="1142.5" x2="1502.5" y2="1319.6" stroke="#000" stroke-opacity="0.10" stroke-width="1"/>
<line x1="1528.0" y1="1142.5" x2="1528.0" y2="1319.6" stroke="#000" stroke-opacity="0.10" stroke-width="1"/>
<line x1="1553.5" y1="1142.5" x2="1553.5" y2="1319.6" stroke="#000" stroke-opacity="0.10" stroke-width="1"/>
<line x1="1579.1" y1="1142.5" x2="1579.1" y2="1319.6" stroke="#000" stroke-opacity="0.10" stroke-width="1"/>
<line x1="1604.6" y1="1142.5" x2="1604.6" y2="1319.6" stroke="#000" stroke-opacity="0.10" stroke-width="1"/>
<line x1="1630.2" y1="1142.5" x2="1630.2" y2="1319.6" stroke="#000" stroke-opacity="0.10" stroke-width="1"/>
<line x1="1655.7" y1="1142.5" x2="1655.7" y2="1319.6" stroke="#000" stroke-opacity="0.10" stroke-width="1"/>
<line x1="1681.2" y1="1142.5" x2="1681.2" y2="1319.6" stroke="#000" stroke-opacity="0.10" stroke-width="1"/>
<line x1="1706.8" y1="1142.5" x2="1706.8" y2="1319.6" stroke="#000" stroke-opacity="0.10" stroke-width="1"/>
<line x1="1732.3" y1="1142.5" x2="1732.3" y2="1319.6" stroke="#000" stroke-opacity="0.10" stroke-width="1"/>
<line x1="1757.9" y1="1142.5" x2="1757.9" y2="1319.6" stroke="#000" stroke-opacity="0.10" stroke-width="1"/>
<line x1="1783.4" y1="1142.5" x2="1783.4" y2="1319.6" stroke="#000" stroke-opacity="0.10" stroke-width="1"/>
<line x1="1808.9" y1="1142.5" x2="1808.9" y2="1319.6" stroke="#000" stroke-opacity="0.10" stroke-width="1"/>
<line x1="1834.5" y1="1142.5" x2="1834.5" y2="1319.6" stroke="#000" stroke-opacity="0.10" stroke-width="1"/>
<line x1="1860.0" y1="1142.5" x2="1860.0" y2="1319.6" stroke="#000" stroke-opacity="0.10" stroke-width="1"/>
<line x1="1885.6" y1="1142.5" x2="1885.6" y2="1319.6" stroke="#000" stroke-opacity="0.10" stroke-width="1"/>
<line x1="1911.1" y1="1142.5" x2="1911.1" y2="1319.6" stroke="#000" stroke-opacity="0.10" stroke-width="1"/>
<line x1="1936.6" y1="1142.5" x2="1936.6" y2="1319.6" stroke="#000" stroke-opacity="0.10" stroke-width="1"/>
<line x1="1962.2" y1="1142.5" x2="1962.2" y2="1319.6" stroke="#000" stroke-opacity="0.10" stroke-width="1"/>
<line x1="1987.7" y1="1142.5" x2="1987.7" y2="1319.6" stroke="#000" stroke-opacity="0.10" stroke-width="1"/>
<line x1="2013.3" y1="1142.5" x2="2013.3" y2="1319.6" stroke="#000" stroke-opacity="0.10" stroke-width="1"/>
<line x1="2038.8" y1="1142.5" x2="2038.8" y2="1319.6" stroke="#000" stroke-opacity="0.10" stroke-width="1"/>
<line x1="2064.3" y1="1142.5" x2="2064.3" y2="1319.6" stroke="#000" stroke-opacity="0.10" stroke-width="1"/>
<line x1="2089.9" y1="1142.5" x2="2089.9" y2="1319.6" stroke="#000" stroke-opacity="0.10" stroke-width="1"/>
<line x1="2115.4" y1="1142.5" x2="2115.4" y2="1319.6" stroke="#000" stroke-opacity="0.10" stroke-width="1"/>
<line x1="2141.0" y1="1142.5" x2="2141.0" y2="1319.6" stroke="#000" stroke-opacity="0.10" stroke-width="1"/>
<line x1="2166.5" y1="1142.5" x2="2166.5" y2="1319.6" stroke="#000" stroke-opacity="0.10" stroke-width="1"/>
<line x1="2192.0" y1="1142.5" x2="2192.0" y2="1319.6" stroke="#000" stroke-opacity="0.10" stroke-width="1"/>
<line x1="631.7" y1="1142.5" x2="631.7" y2="1309.6" stroke="#000" stroke-opacity="0.10" stroke-width="1"/>
<line x1="622.1" y1="1197.8" x2="2209.0" y2="1197.8" stroke="#000" stroke-opacity="0.10" stroke-width="1"/>
<line x1="622.1" y1="1253.2" x2="2209.0" y2="1253.2" stroke="#000" stroke-opacity="0.10" stroke-width="1"/>
<line x1="631.2" y1="1309.6" x2="2209.0" y2="1309.6" stroke="#000" stroke-opacity="0.10" stroke-width="1"/>
<text x="619.0" y="1201.6" font-size="14.2" fill="#757575" font-weight="normal" text-anchor="end" textLength="43.0" lengthAdjust="spacingAndGlyphs" >State 1</text>
<text x="619.0" y="1257.0" font-size="14.2" fill="#757575" font-weight="normal" text-anchor="end" textLength="43.0" lengthAdjust="spacingAndGlyphs" >State 0</text>
<text transform="translate(637.5,1331.1) rotate(-47)" font-size="13.3" fill="#7a7a7a" text-anchor="end">02:22</text>
<text transform="translate(663.0,1331.1) rotate(-47)" font-size="13.3" fill="#7a7a7a" text-anchor="end">02:28</text>
<text transform="translate(688.6,1331.1) rotate(-47)" font-size="13.3" fill="#7a7a7a" text-anchor="end">02:34</text>
<text transform="translate(714.1,1331.1) rotate(-47)" font-size="13.3" fill="#7a7a7a" text-anchor="end">02:40</text>
<text transform="translate(739.7,1331.1) rotate(-47)" font-size="13.3" fill="#7a7a7a" text-anchor="end">02:46</text>
<text transform="translate(765.2,1331.1) rotate(-47)" font-size="13.3" fill="#7a7a7a" text-anchor="end">02:52</text>
<text transform="translate(790.7,1331.1) rotate(-47)" font-size="13.3" fill="#7a7a7a" text-anchor="end">02:58</text>
<text transform="translate(816.3,1331.1) rotate(-47)" font-size="13.3" fill="#7a7a7a" text-anchor="end">03:04</text>
<text transform="translate(841.8,1331.1) rotate(-47)" font-size="13.3" fill="#7a7a7a" text-anchor="end">03:10</text>
<text transform="translate(867.4,1331.1) rotate(-47)" font-size="13.3" fill="#7a7a7a" text-anchor="end">03:16</text>
<text transform="translate(892.9,1331.1) rotate(-47)" font-size="13.3" fill="#7a7a7a" text-anchor="end">03:22</text>
<text transform="translate(918.4,1331.1) rotate(-47)" font-size="13.3" fill="#7a7a7a" text-anchor="end">03:28</text>
<text transform="translate(944.0,1331.1) rotate(-47)" font-size="13.3" fill="#7a7a7a" text-anchor="end">03:34</text>
<text transform="translate(969.5,1331.1) rotate(-47)" font-size="13.3" fill="#7a7a7a" text-anchor="end">03:40</text>
<text transform="translate(995.1,1331.1) rotate(-47)" font-size="13.3" fill="#7a7a7a" text-anchor="end">03:46</text>
<text transform="translate(1020.6,1331.1) rotate(-47)" font-size="13.3" fill="#7a7a7a" text-anchor="end">03:52</text>
<text transform="translate(1046.1,1331.1) rotate(-47)" font-size="13.3" fill="#7a7a7a" text-anchor="end">03:58</text>
<text transform="translate(1071.7,1331.1) rotate(-47)" font-size="13.3" fill="#7a7a7a" text-anchor="end">04:04</text>
<text transform="translate(1097.2,1331.1) rotate(-47)" font-size="13.3" fill="#7a7a7a" text-anchor="end">04:10</text>
<text transform="translate(1122.8,1331.1) rotate(-47)" font-size="13.3" fill="#7a7a7a" text-anchor="end">04:16</text>
<text transform="translate(1148.3,1331.1) rotate(-47)" font-size="13.3" fill="#7a7a7a" text-anchor="end">04:22</text>
<text transform="translate(1173.8,1331.1) rotate(-47)" font-size="13.3" fill="#7a7a7a" text-anchor="end">04:28</text>
<text transform="translate(1199.4,1331.1) rotate(-47)" font-size="13.3" fill="#7a7a7a" text-anchor="end">04:34</text>
<text transform="translate(1224.9,1331.1) rotate(-47)" font-size="13.3" fill="#7a7a7a" text-anchor="end">04:40</text>
<text transform="translate(1250.5,1331.1) rotate(-47)" font-size="13.3" fill="#7a7a7a" text-anchor="end">04:46</text>
<text transform="translate(1276.0,1331.1) rotate(-47)" font-size="13.3" fill="#7a7a7a" text-anchor="end">04:52</text>
<text transform="translate(1301.5,1331.1) rotate(-47)" font-size="13.3" fill="#7a7a7a" text-anchor="end">04:58</text>
<text transform="translate(1327.1,1331.1) rotate(-47)" font-size="13.3" fill="#7a7a7a" text-anchor="end">05:04</text>
<text transform="translate(1352.6,1331.1) rotate(-47)" font-size="13.3" fill="#7a7a7a" text-anchor="end">05:10</text>
<text transform="translate(1378.2,1331.1) rotate(-47)" font-size="13.3" fill="#7a7a7a" text-anchor="end">05:16</text>
<text transform="translate(1403.7,1331.1) rotate(-47)" font-size="13.3" fill="#7a7a7a" text-anchor="end">05:22</text>
<text transform="translate(1429.2,1331.1) rotate(-47)" font-size="13.3" fill="#7a7a7a" text-anchor="end">05:28</text>
<text transform="translate(1454.8,1331.1) rotate(-47)" font-size="13.3" fill="#7a7a7a" text-anchor="end">05:34</text>
<text transform="translate(1480.3,1331.1) rotate(-47)" font-size="13.3" fill="#7a7a7a" text-anchor="end">05:40</text>
<text transform="translate(1505.9,1331.1) rotate(-47)" font-size="13.3" fill="#7a7a7a" text-anchor="end">05:46</text>
<text transform="translate(1531.4,1331.1) rotate(-47)" font-size="13.3" fill="#7a7a7a" text-anchor="end">05:52</text>
<text transform="translate(1556.9,1331.1) rotate(-47)" font-size="13.3" fill="#7a7a7a" text-anchor="end">05:58</text>
<text transform="translate(1582.5,1331.1) rotate(-47)" font-size="13.3" fill="#7a7a7a" text-anchor="end">06:04</text>
<text transform="translate(1608.0,1331.1) rotate(-47)" font-size="13.3" fill="#7a7a7a" text-anchor="end">06:10</text>
<text transform="translate(1633.6,1331.1) rotate(-47)" font-size="13.3" fill="#7a7a7a" text-anchor="end">06:16</text>
<text transform="translate(1659.1,1331.1) rotate(-47)" font-size="13.3" fill="#7a7a7a" text-anchor="end">06:22</text>
<text transform="translate(1684.6,1331.1) rotate(-47)" font-size="13.3" fill="#7a7a7a" text-anchor="end">06:28</text>
<text transform="translate(1710.2,1331.1) rotate(-47)" font-size="13.3" fill="#7a7a7a" text-anchor="end">06:34</text>
<text transform="translate(1735.7,1331.1) rotate(-47)" font-size="13.3" fill="#7a7a7a" text-anchor="end">06:40</text>
<text transform="translate(1761.3,1331.1) rotate(-47)" font-size="13.3" fill="#7a7a7a" text-anchor="end">06:46</text>
<text transform="translate(1786.8,1331.1) rotate(-47)" font-size="13.3" fill="#7a7a7a" text-anchor="end">06:52</text>
<text transform="translate(1812.3,1331.1) rotate(-47)" font-size="13.3" fill="#7a7a7a" text-anchor="end">06:58</text>
<text transform="translate(1837.9,1331.1) rotate(-47)" font-size="13.3" fill="#7a7a7a" text-anchor="end">07:04</text>
<text transform="translate(1863.4,1331.1) rotate(-47)" font-size="13.3" fill="#7a7a7a" text-anchor="end">07:10</text>
<text transform="translate(1889.0,1331.1) rotate(-47)" font-size="13.3" fill="#7a7a7a" text-anchor="end">07:16</text>
<text transform="translate(1914.5,1331.1) rotate(-47)" font-size="13.3" fill="#7a7a7a" text-anchor="end">07:22</text>
<text transform="translate(1940.0,1331.1) rotate(-47)" font-size="13.3" fill="#7a7a7a" text-anchor="end">07:28</text>
<text transform="translate(1965.6,1331.1) rotate(-47)" font-size="13.3" fill="#7a7a7a" text-anchor="end">07:34</text>
<text transform="translate(1991.1,1331.1) rotate(-47)" font-size="13.3" fill="#7a7a7a" text-anchor="end">07:40</text>
<text transform="translate(2016.7,1331.1) rotate(-47)" font-size="13.3" fill="#7a7a7a" text-anchor="end">07:46</text>
<text transform="translate(2042.2,1331.1) rotate(-47)" font-size="13.3" fill="#7a7a7a" text-anchor="end">07:52</text>
<text transform="translate(2067.7,1331.1) rotate(-47)" font-size="13.3" fill="#7a7a7a" text-anchor="end">07:58</text>
<text transform="translate(2093.3,1331.1) rotate(-47)" font-size="13.3" fill="#7a7a7a" text-anchor="end">08:04</text>
<text transform="translate(2118.8,1331.1) rotate(-47)" font-size="13.3" fill="#7a7a7a" text-anchor="end">08:10</text>
<text transform="translate(2144.4,1331.1) rotate(-47)" font-size="13.3" fill="#7a7a7a" text-anchor="end">08:16</text>
<text transform="translate(2169.9,1331.1) rotate(-47)" font-size="13.3" fill="#7a7a7a" text-anchor="end">08:22</text>
<text transform="translate(2195.4,1331.1) rotate(-47)" font-size="13.3" fill="#7a7a7a" text-anchor="end">08:28</text>
<text x="1421.0" y="1378.0" font-size="14.2" fill="#757575" font-weight="normal" text-anchor="middle" >Time</text>
<text transform="translate(564.5,1225.5) rotate(-90)" font-size="14.2" fill="#757575" text-anchor="middle" textLength="183.5" lengthAdjust="spacingAndGlyphs">Heat Circulation Pump Control</text>
<text x="1479.3" y="1089.7" font-size="14.6" fill="#6a6a6a" font-weight="bold" text-anchor="end" textLength="196.0" lengthAdjust="spacingAndGlyphs" >Heat Circulation Pump Control</text>
<rect x="1178.4" y="1117.7" width="11.5" height="12.8" fill="#e0e0e0" stroke="#16A76F" stroke-width="3"/>
<text x="1196.7" y="1127.6" font-size="14.2" fill="#3c3c3c" font-weight="normal" text-anchor="start" textLength="181.7" lengthAdjust="spacingAndGlyphs" >Heat Circulation Pump Control</text>
<rect x="1389.5" y="1117.7" width="11.2" height="12.8" fill="#e0e0e0" stroke="#3498DB" stroke-width="3"/>
<text x="1407.5" y="1127.6" font-size="14.2" fill="#3c3c3c" font-weight="normal" text-anchor="start" textLength="176.6" lengthAdjust="spacingAndGlyphs" >Heat Circulation Pump Status</text>
<path d="M631.5,1253.2 L989,1253.2 L989,1197.8 L1087,1197.8 L1087,1253.2 L1575.5,1253.2 L1575.5,1197.8 L1670.5,1197.8 L1670.5,1253.2 L2181,1253.2 L2181,1197.8 L2209.5,1197.8" fill="none" stroke="#16A772" stroke-width="3.8" stroke-linejoin="round" stroke-linecap="round"/>
<line x1="631.5" y1="1253.2" x2="989" y2="1253.2" stroke="#16A772" stroke-width="5.6" stroke-linecap="round"/>
<line x1="989" y1="1197.8" x2="1087" y2="1197.8" stroke="#16A772" stroke-width="5.6" stroke-linecap="round"/>
<line x1="1087" y1="1253.2" x2="1575.5" y2="1253.2" stroke="#16A772" stroke-width="5.6" stroke-linecap="round"/>
<line x1="1575.5" y1="1197.8" x2="1670.5" y2="1197.8" stroke="#16A772" stroke-width="5.6" stroke-linecap="round"/>
<line x1="1670.5" y1="1253.2" x2="2181" y2="1253.2" stroke="#16A772" stroke-width="5.6" stroke-linecap="round"/>
<line x1="2181" y1="1197.8" x2="2209.5" y2="1197.8" stroke="#16A772" stroke-width="5.6" stroke-linecap="round"/>
<g stroke="#1C3259" stroke-width="2.9" fill="#4472C4" stroke-linejoin="miter">
<rect x="165.5" y="528" width="7.6" height="105"/>
<rect x="176.6" y="528" width="13.8" height="105"/>
<path d="M193.8,528 L858.5,528 L858.5,489.4 L941.3,580.5 L858.5,671.6 L858.5,633 L193.8,633 Z"/>
</g>
<text x="286.9" y="566.8" font-size="43.6" fill="#fff" font-weight="normal" text-anchor="start" textLength="512.5" lengthAdjust="spacingAndGlyphs" >Maintaining Temperature</text>
<text x="343.7" y="626.0" font-size="43.6" fill="#fff" font-weight="normal" text-anchor="start" textLength="399.0" lengthAdjust="spacingAndGlyphs" >at the desired value</text>
<path d="M170,291 L444,291 A30,30 0 0 1 474,321 L474,388 L634.5,450.5 L474,429 L474,426 A30,30 0 0 1 444,456 L170,456 A30,30 0 0 1 140,426 L140,321 A30,30 0 0 1 170,291 Z" fill="#FFFF00" stroke="#000" stroke-width="1.0" stroke-linejoin="miter"/>
<text x="252.4" y="335.1" font-size="38.6" fill="#000" font-weight="normal" text-anchor="start" textLength="109.6" lengthAdjust="spacingAndGlyphs" >Upper</text>
<text x="194.1" y="388.1" font-size="38.6" fill="#000" font-weight="normal" text-anchor="start" textLength="226.3" lengthAdjust="spacingAndGlyphs" >Temperature</text>
<text x="153.0" y="442.0" font-size="38.6" fill="#000" font-weight="normal" text-anchor="start" textLength="309.3" lengthAdjust="spacingAndGlyphs" >Threshold 55.5°C</text>
<path d="M170,694 L444,694 A30,30 0 0 1 474,724 L474,723 L630.5,717.6 L474,767 L474,838 A30,30 0 0 1 444,868 L170,868 A30,30 0 0 1 140,838 L140,724 A30,30 0 0 1 170,694 Z" fill="#FFFF00" stroke="#000" stroke-width="1.0" stroke-linejoin="miter"/>
<text x="252.4" y="741.6" font-size="38.6" fill="#000" font-weight="normal" text-anchor="start" textLength="109.6" lengthAdjust="spacingAndGlyphs" >Lower</text>
<text x="194.1" y="794.7" font-size="38.6" fill="#000" font-weight="normal" text-anchor="start" textLength="226.3" lengthAdjust="spacingAndGlyphs" >Temperature</text>
<text x="153.0" y="849.0" font-size="38.6" fill="#000" font-weight="normal" text-anchor="start" textLength="309.3" lengthAdjust="spacingAndGlyphs" >Threshold 54.5°C</text>
<path d="M2365,281 L2566,281 A35,35 0 0 1 2601,316 L2601,446 A35,35 0 0 1 2566,481 L2444,481 L2327.7,569.6 L2377,481 L2365,481 A35,35 0 0 1 2330,446 L2330,316 A35,35 0 0 1 2365,281 Z" fill="#FFFF00" stroke="#000" stroke-width="1.0" stroke-linejoin="miter"/>
<text x="2351.5" y="342.8" font-size="38.6" fill="#000" font-weight="normal" text-anchor="start" textLength="227.2" lengthAdjust="spacingAndGlyphs" >Temperature</text>
<text x="2346.7" y="395.3" font-size="38.6" fill="#000" font-weight="normal" text-anchor="start" textLength="237.2" lengthAdjust="spacingAndGlyphs" >is maintained</text>
<text x="2356.0" y="448.1" font-size="38.6" fill="#000" font-weight="normal" text-anchor="start" textLength="218.5" lengthAdjust="spacingAndGlyphs" >in this range</text>
<path d="M1176.6,670.4 L1393,670.4 A28,28 0 0 1 1421,698.4 L1421,804.4 A28,28 0 0 1 1393,832.4 L1176.6,832.4 A28,28 0 0 1 1148.6,804.4 L1148.6,736.5 L1026,604.8 L1148.6,697 L1148.6,698.4 A28,28 0 0 1 1176.6,670.4 Z" fill="#FFFF00" stroke="#000" stroke-width="1.0" stroke-linejoin="miter"/>
<line x1="987.8" y1="738.9" x2="987.8" y2="1171.8" stroke="#000" stroke-width="4.2" stroke-dasharray="15.8 12.2"/>
<path d="M979.8,1168.3 L995.8,1168.3 L987.8,1183.8 Z" fill="#000"/>
<line x1="1087" y1="481.2" x2="1087" y2="1172.2" stroke="#000" stroke-width="4.2" stroke-dasharray="15.8 12.2"/>
<path d="M1079,1168.7 L1095,1168.7 L1087,1184.2 Z" fill="#000"/>
<line x1="1578" y1="721.2" x2="1578" y2="1153.3" stroke="#000" stroke-width="4.2" stroke-dasharray="15.8 12.2"/>
<path d="M1570,1149.8 L1586,1149.8 L1578,1165.3 Z" fill="#000"/>
<line x1="1675" y1="477.3" x2="1675" y2="1167.5" stroke="#000" stroke-width="4.2" stroke-dasharray="15.8 12.2"/>
<path d="M1667,1164.0 L1683,1164.0 L1675,1179.5 Z" fill="#000"/>
<line x1="2183" y1="736.2" x2="2183" y2="1168.5" stroke="#000" stroke-width="4.2" stroke-dasharray="15.8 12.2"/>
<path d="M2175,1165.0 L2191,1165.0 L2183,1180.5 Z" fill="#000"/>
<text x="1169.8" y="739.2" font-size="38.6" fill="#000" font-weight="normal" text-anchor="start" textLength="228.3" lengthAdjust="spacingAndGlyphs" >Current Tank</text>
<text x="1169.8" y="792.2" font-size="38.6" fill="#000" font-weight="normal" text-anchor="start" textLength="227.5" lengthAdjust="spacingAndGlyphs" >Temperature</text>
<path d="M2245.5,463.2 A37.6,8.3 0 0 1 2283.1,471.5 L2283.1,575.5 A36.8,8.5 0 0 0 2319.9,584 A36.8,8.5 0 0 0 2283.1,592.5 L2283.1,696.4 A37.6,8.3 0 0 1 2245.5,704.7" fill="none" stroke="#000" stroke-width="5.6"/>
<path d="M1088.3,1265 L1088.3,1282.5 A7.2,7.2 0 0 0 1095.5,1289.7 L1325.8,1289.7 A7.2,7.2 0 0 1 1333,1296.9 L1333,1314.4 L1333,1296.9 A7.2,7.2 0 0 1 1340.2,1289.7 L1570.6,1289.7 A7.2,7.2 0 0 0 1577.8,1282.5 L1577.8,1265" fill="none" stroke="#000" stroke-width="6" stroke-linejoin="miter"/>
<path d="M1676.6,1264 L1676.6,1281.05 A7.2,7.2 0 0 0 1683.8,1288.25 L1918.8,1288.25 A7.2,7.2 0 0 1 1926,1295.45 L1926,1312.5 L1926,1295.45 A7.2,7.2 0 0 1 1933.2,1288.25 L2169.3,1288.25 A7.2,7.2 0 0 0 2176.5,1281.05 L2176.5,1264" fill="none" stroke="#000" stroke-width="6" stroke-linejoin="miter"/>
<path d="M1181.5,980.4 L1350.8,980.4 A25,25 0 0 1 1375.8,1005.4 L1375.8,1089.3 A25,25 0 0 1 1350.8,1114.3 L1181.5,1114.3 A25,25 0 0 1 1156.5,1089.3 L1156.5,1096 L1032.2,1191.8 L1156.5,1064 L1156.5,1005.4 A25,25 0 0 1 1181.5,980.4 Z" fill="#FFFF00" stroke="#000" stroke-width="1.0" stroke-linejoin="miter" transform="translate(1,2)"/>
<path d="M1181.5,980.4 L1350.8,980.4 A25,25 0 0 1 1375.8,1005.4 L1375.8,1059 L1609.7,1188.6 L1375.8,1092.6 L1375.8,1089.3 A25,25 0 0 1 1350.8,1114.3 L1181.5,1114.3 A25,25 0 0 1 1156.5,1089.3 L1156.5,1005.4 A25,25 0 0 1 1181.5,980.4 Z" fill="#FFFF00" stroke="#000" stroke-width="1.0" stroke-linejoin="miter"/>
<text x="1170.1" y="1034.7" font-size="38.6" fill="#000" font-weight="normal" text-anchor="start" textLength="190.2" lengthAdjust="spacingAndGlyphs" >Circulation</text>
<text x="1181.3" y="1088.1" font-size="38.6" fill="#000" font-weight="normal" text-anchor="start" textLength="167.4" lengthAdjust="spacingAndGlyphs" >Pump ON</text>
<path d="M1494,1338.5 L1663,1338.5 A25,25 0 0 1 1688,1363.5 L1688,1448 A25,25 0 0 1 1663,1473 L1494,1473 A25,25 0 0 1 1469,1448 L1469,1395 L1333,1321 L1469,1362 L1469,1363.5 A25,25 0 0 1 1494,1338.5 Z" fill="#FFFF00" stroke="#000" stroke-width="1.0" stroke-linejoin="miter" transform="translate(0.5,2)"/>
<path d="M1494,1338.5 L1663,1338.5 A25,25 0 0 1 1688,1363.5 L1688,1360 L1927,1320 L1688,1393 L1688,1448 A25,25 0 0 1 1663,1473 L1494,1473 A25,25 0 0 1 1469,1448 L1469,1363.5 A25,25 0 0 1 1494,1338.5 Z" fill="#FFFF00" stroke="#000" stroke-width="1.0" stroke-linejoin="miter"/>
<text x="1483.2" y="1392.8" font-size="38.6" fill="#000" font-weight="normal" text-anchor="start" textLength="190.2" lengthAdjust="spacingAndGlyphs" >Circulation</text>
<text x="1488.3" y="1445.2" font-size="38.6" fill="#000" font-weight="normal" text-anchor="start" textLength="181.7" lengthAdjust="spacingAndGlyphs" >Pump OFF</text>
</g></svg></body></html>
